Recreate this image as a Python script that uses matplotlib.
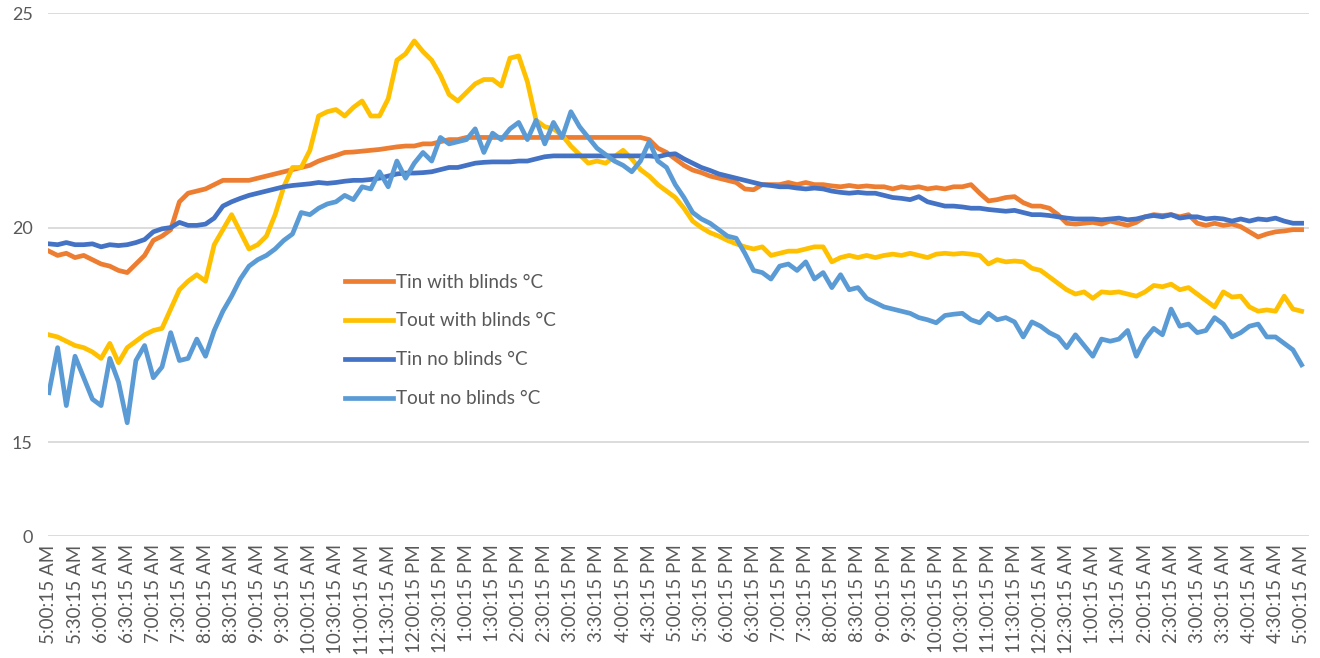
import numpy as np
import pandas as pd
import matplotlib
matplotlib.use('Agg')
import matplotlib.pyplot as plt

# readings every 10 minutes, 5:00:15 AM -> 5:00:15 AM next day (145 points)
tin_blinds = [
    19.45, 19.35, 19.4, 19.3, 19.35, 19.25,
    19.15, 19.1, 19.0, 18.95, 19.15, 19.35,
    19.7, 19.8, 19.95, 20.6, 20.8, 20.85,
    20.9, 21.0, 21.1, 21.1, 21.1, 21.1,
    21.15, 21.2, 21.25, 21.3, 21.35, 21.4,
    21.45, 21.55, 21.62, 21.68, 21.75, 21.76,
    21.78, 21.8, 21.82, 21.85, 21.88, 21.9,
    21.9, 21.95, 21.95, 22.0, 22.05, 22.05,
    22.1, 22.1, 22.1, 22.1, 22.1, 22.1,
    22.1, 22.1, 22.1, 22.1, 22.1, 22.1,
    22.1, 22.1, 22.1, 22.1, 22.1, 22.1,
    22.1, 22.1, 22.1, 22.05, 21.85, 21.75,
    21.6, 21.45, 21.34, 21.28, 21.2, 21.15,
    21.1, 21.05, 20.9, 20.88, 21.0, 21.0,
    21.0, 21.05, 21.0, 21.05, 21.0, 21.0,
    20.97, 20.95, 20.98, 20.95, 20.97, 20.95,
    20.95, 20.9, 20.95, 20.92, 20.95, 20.9,
    20.93, 20.9, 20.95, 20.95, 21.0, 20.8,
    20.62, 20.65, 20.7, 20.72, 20.58, 20.5,
    20.5, 20.45, 20.3, 20.1, 20.08, 20.1,
    20.12, 20.08, 20.15, 20.1, 20.05, 20.12,
    20.25, 20.3, 20.28, 20.3, 20.25, 20.3,
    20.1, 20.05, 20.1, 20.05, 20.08, 20.02,
    19.9, 19.78, 19.85, 19.9, 19.92, 19.95,
    19.95,
]

tout_blinds = [
    17.5, 17.45, 17.35, 17.25, 17.2, 17.1,
    16.95, 17.3, 16.85, 17.2, 17.35, 17.5,
    17.6, 17.65, 18.1, 18.55, 18.75, 18.9,
    18.75, 19.6, 19.95, 20.3, 19.9, 19.5,
    19.6, 19.8, 20.3, 20.95, 21.4, 21.4,
    21.8, 22.6, 22.7, 22.75, 22.6, 22.8,
    22.95, 22.6, 22.6, 23.0, 23.9, 24.05,
    24.35, 24.1, 23.9, 23.55, 23.1, 22.95,
    23.15, 23.35, 23.45, 23.45, 23.3, 23.95,
    24.0, 23.4, 22.5, 22.35, 22.3, 22.15,
    21.9, 21.7, 21.5, 21.55, 21.5, 21.65,
    21.8, 21.6, 21.35, 21.2, 21.0, 20.85,
    20.7, 20.45, 20.15, 20.0, 19.88, 19.8,
    19.7, 19.62, 19.55, 19.5, 19.55, 19.35,
    19.4, 19.45, 19.45, 19.5, 19.55, 19.55,
    19.2, 19.3, 19.35, 19.3, 19.35, 19.3,
    19.35, 19.38, 19.35, 19.4, 19.35, 19.3,
    19.38, 19.4, 19.38, 19.4, 19.38, 19.35,
    19.15, 19.25, 19.2, 19.22, 19.2, 19.05,
    19.0, 18.85, 18.7, 18.55, 18.45, 18.5,
    18.35, 18.5, 18.48, 18.5, 18.45, 18.4,
    18.5, 18.65, 18.62, 18.68, 18.55, 18.6,
    18.45, 18.3, 18.15, 18.5, 18.38, 18.4,
    18.15, 18.05, 18.08, 18.05, 18.4, 18.1,
    18.05,
]

tin_no_blinds = [
    19.62, 19.6, 19.65, 19.6, 19.6, 19.62,
    19.55, 19.6, 19.58, 19.6, 19.65, 19.72,
    19.9, 19.97, 20.0, 20.12, 20.05, 20.05,
    20.08, 20.22, 20.5, 20.6, 20.68, 20.75,
    20.8, 20.85, 20.9, 20.95, 20.98, 21.0,
    21.02, 21.05, 21.03, 21.05, 21.08, 21.1,
    21.1, 21.12, 21.15, 21.2, 21.25, 21.27,
    21.27, 21.28, 21.3, 21.35, 21.4, 21.4,
    21.45, 21.5, 21.52, 21.53, 21.53, 21.53,
    21.55, 21.55, 21.6, 21.65, 21.67, 21.67,
    21.67, 21.67, 21.67, 21.67, 21.67, 21.67,
    21.67, 21.67, 21.67, 21.67, 21.65, 21.7,
    21.72, 21.6, 21.5, 21.4, 21.33, 21.25,
    21.2, 21.15, 21.1, 21.05, 21.0, 20.98,
    20.95, 20.95, 20.92, 20.9, 20.92, 20.9,
    20.85, 20.82, 20.8, 20.82, 20.8, 20.8,
    20.75, 20.7, 20.68, 20.65, 20.72, 20.6,
    20.55, 20.5, 20.5, 20.48, 20.45, 20.45,
    20.42, 20.4, 20.38, 20.4, 20.35, 20.3,
    20.3, 20.28, 20.25, 20.22, 20.2, 20.2,
    20.2, 20.18, 20.2, 20.22, 20.18, 20.2,
    20.25, 20.28, 20.25, 20.3, 20.22, 20.25,
    20.25, 20.2, 20.22, 20.2, 20.15, 20.2,
    20.15, 20.2, 20.18, 20.22, 20.15, 20.1,
    20.1,
]

tout_no_blinds = [
    16.15, 17.2, 15.85, 17.0, 16.5, 16.0,
    15.85, 16.95, 16.4, 15.45, 16.9, 17.25,
    16.5, 16.75, 17.55, 16.9, 16.95, 17.4,
    17.0, 17.6, 18.05, 18.4, 18.8, 19.1,
    19.25, 19.35, 19.5, 19.7, 19.85, 20.35,
    20.3, 20.45, 20.55, 20.6, 20.75, 20.65,
    20.95, 20.9, 21.3, 20.95, 21.55, 21.15,
    21.5, 21.75, 21.55, 22.1, 21.95, 22.0,
    22.05, 22.3, 21.75, 22.2, 22.05, 22.3,
    22.45, 22.05, 22.5, 21.95, 22.45, 22.1,
    22.7, 22.35, 22.1, 21.85, 21.7, 21.55,
    21.45, 21.3, 21.55, 22.0, 21.55, 21.4,
    21.0, 20.7, 20.35, 20.2, 20.1, 19.95,
    19.8, 19.75, 19.4, 19.0, 18.95, 18.8,
    19.1, 19.15, 19.0, 19.2, 18.8, 18.95,
    18.6, 18.9, 18.55, 18.6, 18.35, 18.25,
    18.15, 18.1, 18.05, 18.0, 17.9, 17.85,
    17.78, 17.95, 17.98, 18.0, 17.85, 17.78,
    18.0, 17.85, 17.9, 17.8, 17.45, 17.8,
    17.7, 17.55, 17.45, 17.2, 17.5, 17.25,
    17.0, 17.4, 17.35, 17.4, 17.6, 17.0,
    17.4, 17.65, 17.5, 18.1, 17.7, 17.75,
    17.55, 17.6, 17.9, 17.75, 17.45, 17.55,
    17.7, 17.75, 17.45, 17.45, 17.3, 17.15,
    16.8,
]

series_names = ['Tin with blinds °C', 'Tout with blinds °C',
                'Tin no blinds °C', 'Tout no blinds °C']
series_colors = ['#ED7D31', '#FFC000', '#4472C4', '#5B9BD5']
y_ticks = [0, 15, 20, 25]

# x axis: one step = 10 minutes, label every 30 minutes
steps = np.arange(len(tin_blinds))
label_times = pd.date_range('2020-01-01 05:00:15', periods=49, freq='30min')
tick_labels = [f"{d.hour % 12 or 12}:{d.minute:02d}:{d.second:02d} {'AM' if d.hour < 12 else 'PM'}"
               for d in label_times]
tick_pos = np.arange(0, len(steps), 3)

# y axis is squeezed below 15 (like the original chart)
k = 0.146
def fwd(y):
    y = np.asarray(y, dtype=float)
    return np.where(y >= 15, y - 15, (y - 15) * k)

def inv(u):
    u = np.asarray(u, dtype=float)
    return np.where(u >= 0, u + 15, u / k + 15)

plt.rcParams['font.family'] = ['Lato', 'DejaVu Sans']

fig = plt.figure(figsize=(13.2, 6.58), dpi=100)
ax = fig.add_axes([0.0364, 0.1854, 0.9556, 0.7948])
ax.set_yscale('function', functions=(fwd, inv))

for vals, name, col in zip([tin_blinds, tout_blinds, tin_no_blinds, tout_no_blinds],
                           series_names, series_colors):
    ax.plot(steps, vals, color=col, linewidth=3.4, label=name, solid_joinstyle='round')

ax.set_ylim(0, 25)
ax.set_yticks(y_ticks)
ax.set_yticklabels([str(v) for v in y_ticks])
ax.set_xlim(-0.1, 144.9)
ax.set_xticks(tick_pos)
ax.set_xticklabels(tick_labels, rotation=90)
ax.yaxis.set_minor_locator(matplotlib.ticker.NullLocator())

ax.grid(axis='y', color='#D9D9D9', linewidth=1.3)
ax.set_axisbelow(True)
for s in ax.spines.values():
    s.set_visible(False)
ax.tick_params(length=0, colors='#595959')
ax.tick_params(axis='x', pad=6, labelsize=13.5)
ax.tick_params(axis='y', pad=11, labelsize=13)

leg = ax.legend(loc='upper left', bbox_to_anchor=(0.228, 0.520), frameon=False,
                fontsize=13.6, handlelength=2.54, handletextpad=0.16,
                labelspacing=1.16, borderpad=0)
for t in leg.get_texts():
    t.set_color('#595959')

plt.savefig('out.png', dpi=100)
